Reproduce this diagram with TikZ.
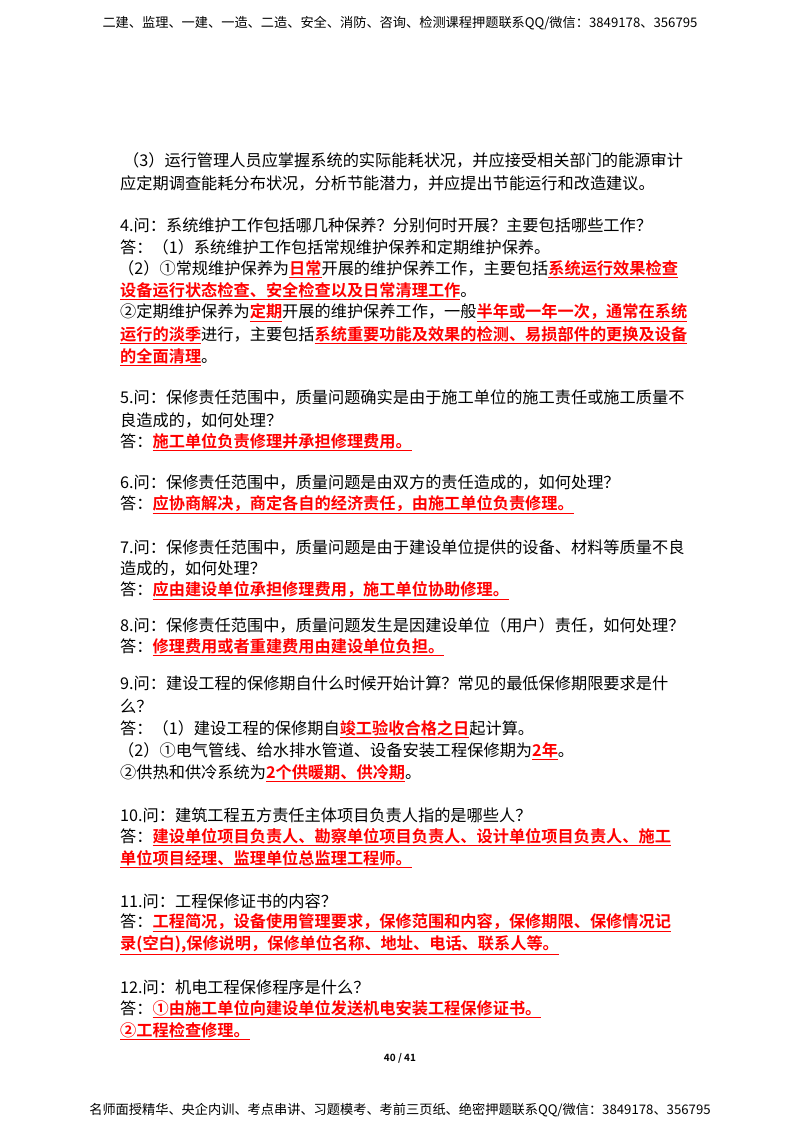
\documentclass[tikz,border=0pt]{standalone}
\usepackage{fontspec}
\setmainfont{Noto Sans CJK SC}[BoldFont={Noto Sans CJK SC Bold}]
\usepackage{xcolor}
\newcommand{\hl}[1]{\textcolor{red}{\bfseries\underline{#1}}}
\newcommand{\rd}[1]{\textcolor{red}{\bfseries #1}}
\begin{document}
\begin{tikzpicture}[x=1pt,y=-1pt,
    txt/.style={anchor=west,inner sep=0pt,font=\fontsize{16.2}{18}\selectfont},
    hdr/.style={anchor=center,inner sep=0pt,font=\fontsize{13.2}{15}\selectfont}]
  \useasboundingbox (0,0) rectangle (800,1132);
  \node[hdr] (head) at (400,23) {二建、监理、一建、一造、二造、安全、消防、咨询、检测课程押题联系QQ/微信：3849178、356795};
  \node[txt] (a1) at (123,160) {（3）运行管理人员应掌握系统的实际能耗状况，并应接受相关部门的能源审计};
  \node[txt] (a2) at (120,183) {应定期调查能耗分布状况，分析节能潜力，并应提出节能运行和改造建议。};
  \node[txt] (b1) at (120,225) {4.问：系统维护工作包括哪几种保养？分别何时开展？主要包括哪些工作？};
  \node[txt] (b2) at (120,247) {答：（1）系统维护工作包括常规维护保养和定期维护保养。};
  \node[txt] (b3) at (118,269) {（2）①常规维护保养为\hl{日常}开展的维护保养工作，主要包括\hl{系统运行效果检查}};
  \node[txt] (b4) at (120,291) {\hl{设备运行状态检查、安全检查以及日常清理工作}。};
  \node[txt] (b5) at (120,313) {②定期维护保养为\hl{定期}开展的维护保养工作，一般\hl{半年或一年一次，通常在系统}};
  \node[txt] (b6) at (120,335) {\hl{运行的淡季}进行，主要包括\hl{系统重要功能及效果的检测、易损部件的更换及设备}};
  \node[txt] (b7) at (120,357) {\hl{的全面清理}。};
  \node[txt] (c1) at (120,398) {5.问：保修责任范围中，质量问题确实是由于施工单位的施工责任或施工质量不};
  \node[txt] (c2) at (120,420) {良造成的，如何处理？};
  \node[txt] (c3) at (120,442) {答：\hl{施工单位负责修理并承担修理费用。}};
  \node[txt] (d1) at (120,483) {6.问：保修责任范围中，质量问题是由双方的责任造成的，如何处理？};
  \node[txt] (d2) at (120,505) {答：\hl{应协商解决，商定各自的经济责任，由施工单位负责修理。}};
  \node[txt] (e1) at (120,547) {7.问：保修责任范围中，质量问题是由于建设单位提供的设备、材料等质量不良};
  \node[txt] (e2) at (120,569) {造成的，如何处理？};
  \node[txt] (e3) at (120,591) {答：\hl{应由建设单位承担修理费用，施工单位协助修理。}};
  \node[txt] (f1) at (120,625) {8.问：保修责任范围中，质量问题发生是因建设单位（用户）责任，如何处理？};
  \node[txt] (f2) at (120,647) {答：\hl{修理费用或者重建费用由建设单位负担。}};
  \node[txt] (g1) at (120,683) {9.问：建设工程的保修期自什么时候开始计算？常见的最低保修期限要求是什};
  \node[txt] (g2) at (120,706) {么？};
  \node[txt] (g3) at (120,729) {答：（1）建设工程的保修期自\hl{竣工验收合格之日}起计算。};
  \node[txt] (g4) at (118,751) {（2）①电气管线、给水排水管道、设备安装工程保修期为\hl{2年}。};
  \node[txt] (g5) at (120,773) {②供热和供冷系统为\hl{2个供暖期、供冷期}。};
  \node[txt] (h1) at (120,815) {10.问：建筑工程五方责任主体项目负责人指的是哪些人？};
  \node[txt] (h2) at (120,837) {答：\hl{建设单位项目负责人、勘察单位项目负责人、设计单位项目负责人、施工}};
  \node[txt] (h3) at (120,859) {\hl{单位项目经理、监理单位总监理工程师。}};
  \node[txt] (i1) at (120,901) {11.问：工程保修证书的内容？};
  \node[txt] (i2) at (120,923) {答：\hl{工程简况，设备使用管理要求，保修范围和内容，保修期限、保修情况记}};
  \node[txt] (i3) at (120,945) {\hl{录(空白),保修说明，保修单位名称、地址、电话、联系人等。}};
  \node[txt] (j1) at (120,987) {12.问：机电工程保修程序是什么？};
  \node[txt] (j2) at (120,1009) {答：\hl{①由施工单位向建设单位发送机电安装工程保修证书。}};
  \node[txt] (j3) at (120,1031) {\hl{②工程检查修理。}};
  \node[hdr,font=\fontsize{10}{12}\selectfont\bfseries] (pg) at (400,1058) {40 / 41};
  \node[hdr] (foot) at (400,1110) {名师面授精华、央企内训、考点串讲、习题模考、考前三页纸、绝密押题联系QQ/微信：3849178、356795};
\end{tikzpicture}
\end{document}
